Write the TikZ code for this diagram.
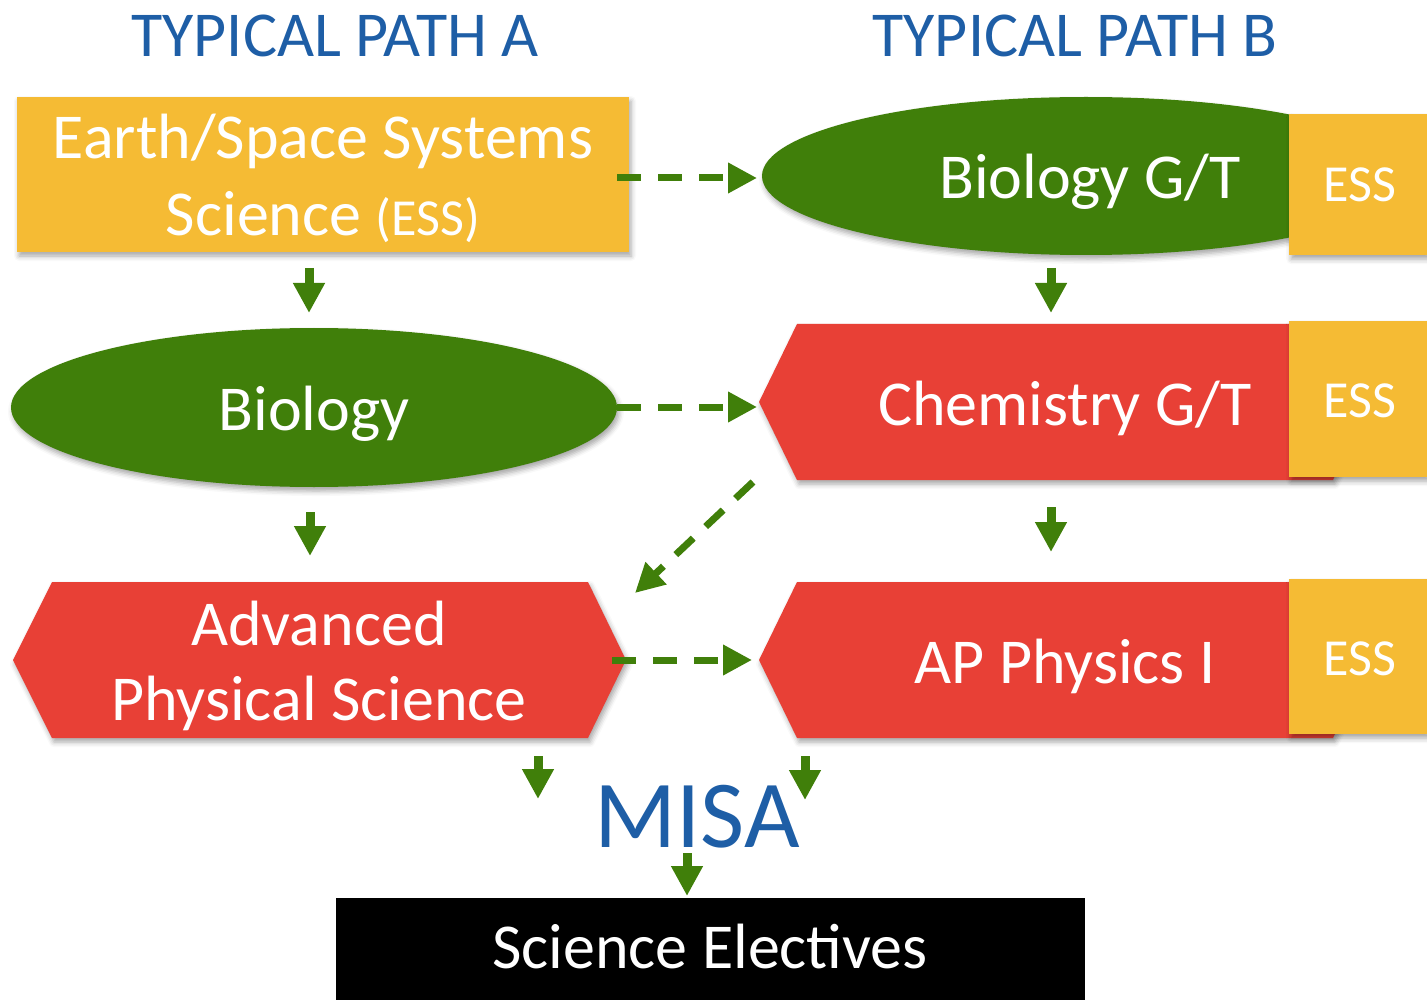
\documentclass[tikz,border=0pt]{standalone}
\usepackage{fontspec}
\setmainfont{Carlito}
\usetikzlibrary{arrows.meta,shapes.geometric,shadows.blur}
\definecolor{essor}{RGB}{245,187,52}
\definecolor{grn}{RGB}{64,127,10}
\definecolor{rd}{RGB}{232,64,54}
\definecolor{blu}{RGB}{30,94,166}
\tikzset{
  shd/.style={blur shadow={shadow xshift=2pt,shadow yshift=-4pt,shadow blur radius=5pt,shadow opacity=35}},
  boxy/.style={rectangle,inner sep=0pt,shd},
  ovl/.style={ellipse,inner sep=0pt,fill=grn,shd},
  wtxt/.style={text=white,inner sep=0pt,anchor=base,font=\fontsize{64}{77}\selectfont},
  btxt/.style={text=blu,inner sep=0pt,anchor=base,font=\fontsize{64}{76}\selectfont},
  solidarr/.style={draw=grn,line width=9pt,-{Triangle[width=30pt,length=30pt]}},
  dasharr/.style={draw=grn,line width=7pt,dash pattern=on 24pt off 17pt,-{Triangle[width=29pt,length=29pt]}},
}
\begin{document}
\begin{tikzpicture}[x=1pt,y=-1pt]
\useasboundingbox (0,0) rectangle (1427,1000);
% titles
\node[btxt] (tA) at (335,57) {TYPICAL PATH A};
\node[btxt] (tB) at (1075,57) {TYPICAL PATH B};
% shapes
\node[boxy,fill=essor,minimum width=612pt,minimum height=155pt] (essbox) at (323,174.5) {};
\node[ovl,minimum width=648pt,minimum height=158pt] (biogt) at (1086,176) {};
\node[ovl,minimum width=606pt,minimum height=159pt] (bio) at (314,407.5) {};
\fill[rd,shd] (759,402) -- (797,324) -- (1333,324) -- (1371,402) -- (1333,480) -- (797,480) -- cycle;
\fill[rd,shd] (13,660) -- (52,582) -- (588,582) -- (626,660) -- (588,738) -- (52,738) -- cycle;
\fill[rd,shd] (759,660) -- (797,582) -- (1333,582) -- (1371,660) -- (1333,738) -- (797,738) -- cycle;
\node[boxy,fill=essor,minimum width=138pt,minimum height=141pt,anchor=north west] (e1) at (1289,114) {};
\node[boxy,fill=essor,minimum width=138pt,minimum height=156pt,anchor=north west] (e2) at (1289,321) {};
\node[boxy,fill=essor,minimum width=138pt,minimum height=155pt,anchor=north west] (e3) at (1289,579) {};
\node[rectangle,inner sep=0pt,fill=black,minimum width=749pt,minimum height=102pt,anchor=north west] (elec) at (336,898) {};
% texts
\node[wtxt] (t1) at (323,159) {Earth/Space Systems};
\node[wtxt] (t2) at (323,236) {Science {\fontsize{52}{60}\selectfont(ESS)}};
\node[wtxt] (t3) at (1090,199) {Biology G/T};
\node[wtxt] (t4) at (314,430) {Biology};
\node[wtxt] (t5) at (1065,425) {Chemistry G/T};
\node[wtxt] (t6) at (319,645) {Advanced};
\node[wtxt] (t7) at (319,720) {Physical Science};
\node[wtxt] (t8) at (1065,683) {AP Physics I};
\node[wtxt,font=\fontsize{52}{60}\selectfont] (s1) at (1360,202) {ESS};
\node[wtxt,font=\fontsize{52}{60}\selectfont] (s2) at (1360,417) {ESS};
\node[wtxt,font=\fontsize{52}{60}\selectfont] (s3) at (1360,675) {ESS};
\node[text=blu,inner sep=0pt,anchor=base,font=\fontsize{96}{112}\selectfont] (misa) at (697,847) {MISA};
\node[wtxt] (t9) at (710,968) {Science Electives};
% arrow end points
\coordinate (a1s) at (309,268); \coordinate (a1e) at (309,313);
\coordinate (a2s) at (310,512); \coordinate (a2e) at (310,556);
\coordinate (a3s) at (1051,268); \coordinate (a3e) at (1051,313);
\coordinate (a4s) at (1051,507); \coordinate (a4e) at (1051,552);
\coordinate (a5s) at (538,756); \coordinate (a5e) at (538,799);
\coordinate (a6s) at (805,756); \coordinate (a6e) at (805,800);
\coordinate (a7s) at (687,853); \coordinate (a7e) at (687,896);
\coordinate (d1s) at (617,178); \coordinate (d1e) at (757,178);
\coordinate (d2s) at (617,407); \coordinate (d2e) at (757,407);
\coordinate (d3s) at (753,482); \coordinate (d3e) at (635,593);
\coordinate (d4s) at (612,660); \coordinate (d4e) at (752,660);
\foreach \i in {1,...,7} {\draw[solidarr] (a\i s) -- (a\i e);}
\foreach \i in {1,...,4} {\draw[dasharr] (d\i s) -- (d\i e);}
\end{tikzpicture}
\end{document}
